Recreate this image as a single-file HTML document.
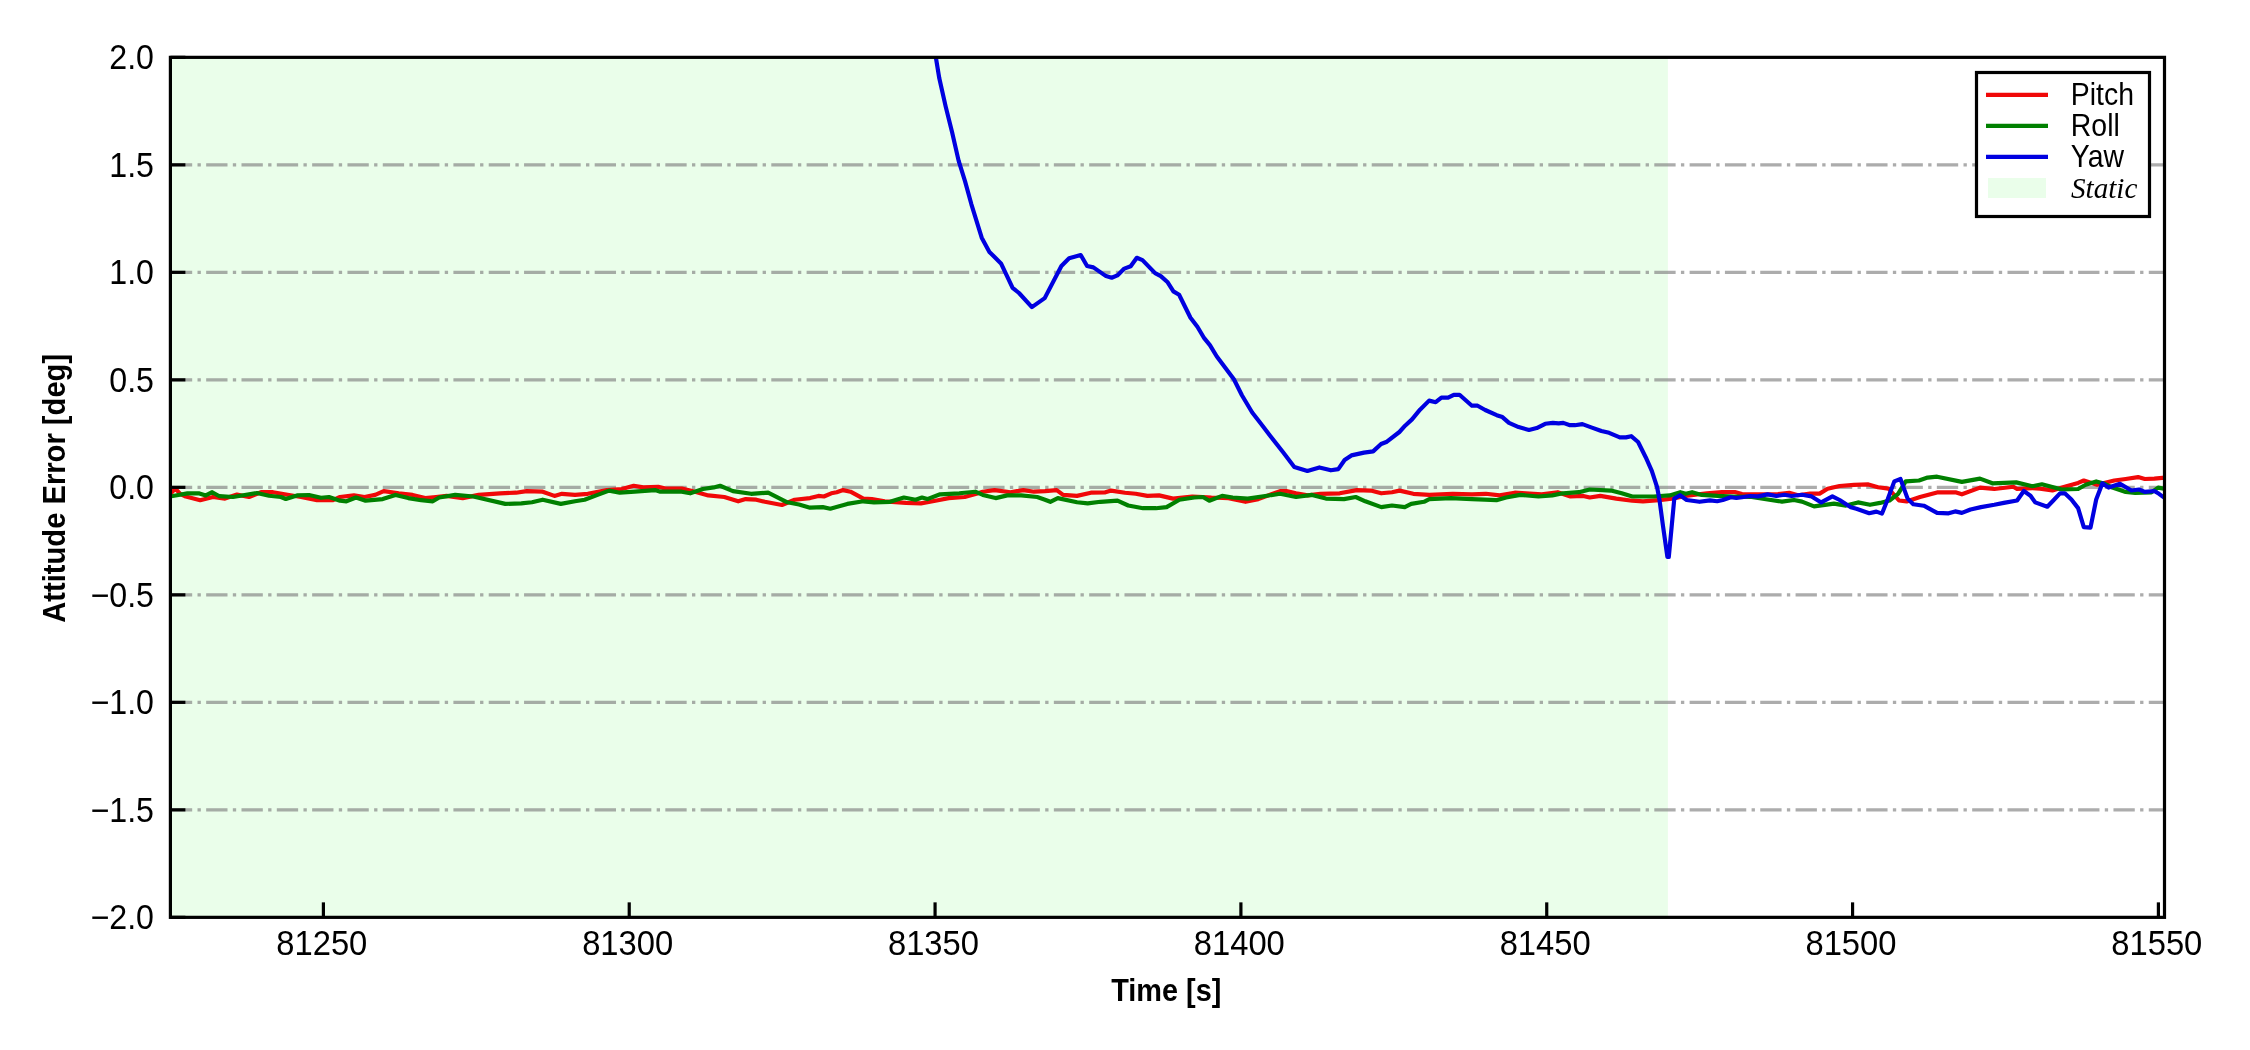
<!DOCTYPE html>
<html><head><meta charset="utf-8"><style>
html,body{margin:0;padding:0;background:#fff;}
body{width:2250px;height:1050px;overflow:hidden;}
svg{display:block;will-change:transform;}
text{font-family:"Liberation Sans",sans-serif;fill:#000;}
</style></head><body>
<svg width="2250" height="1050" viewBox="0 0 2250 1050">
<defs><clipPath id="ax"><rect x="170.4" y="57.35" width="1994.1" height="860.0"/></clipPath></defs>
<rect x="0" y="0" width="2250" height="1050" fill="#fff"/>
<rect x="170.4" y="57.35" width="1497.5" height="860.0" fill="#eafeea"/>
<g clip-path="url(#ax)" stroke="#808080" stroke-opacity="0.65" stroke-width="3.33" stroke-dasharray="21.33 5.33 3.33 5.33" fill="none"><line x1="170.85" y1="809.85" x2="2164.5" y2="809.85"/><line x1="170.85" y1="702.35" x2="2164.5" y2="702.35"/><line x1="170.85" y1="594.85" x2="2164.5" y2="594.85"/><line x1="170.85" y1="487.35" x2="2164.5" y2="487.35"/><line x1="170.85" y1="379.85" x2="2164.5" y2="379.85"/><line x1="170.85" y1="272.35" x2="2164.5" y2="272.35"/><line x1="170.85" y1="164.85" x2="2164.5" y2="164.85"/></g>
<g clip-path="url(#ax)" fill="none" stroke-width="4.17" stroke-linejoin="round" stroke-linecap="square"><polyline stroke="#f00808" points="171.8,492.2 175.4,488.6 180.2,493.8 185.8,496.6 200.2,500.2 213.0,497.0 225.0,498.6 237.0,494.6 249.0,497.0 261.0,492.2 273.0,492.2 289.0,495.0 301.0,497.0 317.0,500.2 333.0,500.2 340.0,497.0 353.9,495.4 364.5,497.0 375.2,494.9 383.7,491.1 398.7,493.3 412.5,494.9 425.3,498.1 436.0,497.0 446.7,495.9 462.7,498.1 478.7,494.9 500.0,493.3 516.0,492.7 526.7,491.1 542.7,491.7 554.4,495.9 561.9,493.8 575.0,494.9 587.8,493.8 607.0,490.1 621.9,489.0 633.7,485.8 643.3,487.4 658.2,486.9 665.7,488.5 681.7,488.5 692.3,491.1 708.3,495.4 724.3,497.0 738.2,501.3 745.7,499.1 756.3,499.7 764.9,501.8 781.9,505.0 794.7,499.7 810.0,498.1 818.5,495.9 823.9,496.5 831.3,493.3 836.7,492.2 843.1,490.1 850.5,491.7 863.3,498.6 871.9,499.1 884.7,501.3 906.0,502.9 920.9,503.4 938.0,500.2 948.7,498.1 964.7,497.0 976.4,493.8 982.8,491.7 994.5,490.1 1010.5,492.2 1023.3,490.1 1034.0,491.7 1045.0,491.1 1056.7,490.1 1063.1,494.9 1077.0,495.9 1090.9,492.7 1104.7,492.5 1111.1,490.6 1125.0,492.7 1135.7,493.8 1147.4,495.9 1159.1,495.4 1173.0,498.6 1192.2,496.5 1202.9,497.0 1211.4,497.5 1228.5,498.1 1245.5,501.8 1258.3,499.1 1280.0,491.1 1286.4,491.1 1296.0,493.3 1307.7,495.4 1320.5,493.8 1339.7,493.3 1356.8,490.1 1370.7,490.6 1381.3,493.3 1392.0,492.2 1399.5,490.6 1413.3,493.8 1429.3,494.9 1452.8,493.8 1472.0,494.3 1485.9,493.8 1499.7,495.4 1514.7,492.7 1525.7,493.3 1541.7,494.3 1557.7,492.2 1570.5,496.5 1583.3,495.9 1589.7,497.5 1600.3,495.9 1616.3,498.6 1632.3,500.7 1643.0,501.3 1659.0,500.2 1671.8,498.6 1685.7,495.9 1707.0,493.3 1722.0,492.0 1734.8,492.0 1742.0,494.0 1758.0,494.4 1778.0,494.0 1789.2,492.8 1798.0,495.2 1810.0,493.6 1819.6,493.6 1827.6,488.8 1839.6,486.0 1854.0,484.8 1868.4,484.4 1878.0,487.2 1888.6,488.6 1899.0,500.5 1906.7,501.4 1920.0,497.1 1937.1,492.4 1956.2,492.4 1961.9,494.3 1980.0,487.6 1994.3,489.0 2013.3,486.7 2017.1,489.0 2032.4,488.1 2040.0,488.6 2052.4,490.5 2063.8,487.1 2078.1,482.9 2083.8,480.5 2097.1,484.8 2114.3,480.5 2125.7,479.0 2138.1,477.1 2144.8,479.0 2154.3,478.6 2166.0,477.6"/><polyline stroke="#008000" points="171.8,496.2 187.4,493.4 199.4,493.4 205.8,495.4 212.2,492.2 219.4,496.2 233.0,497.0 257.0,493.0 269.0,495.8 281.0,497.0 285.8,499.0 297.0,495.4 309.0,495.0 321.0,497.8 329.0,497.0 340.0,500.7 346.4,501.3 356.0,497.5 365.6,500.7 382.7,499.1 395.5,494.9 408.3,498.1 421.1,500.2 432.8,501.3 439.2,497.5 455.2,494.9 473.3,496.5 505.3,503.9 521.3,503.4 532.0,502.3 542.7,499.7 560.8,503.9 575.0,501.3 584.6,499.7 596.3,495.4 609.1,490.6 619.8,492.7 634.7,491.7 655.0,490.1 660.3,491.7 681.7,491.7 690.2,493.3 703.0,489.0 713.7,487.4 720.1,485.8 732.9,491.1 751.0,493.8 768.1,492.7 787.3,502.3 799.0,504.5 810.0,507.7 822.8,507.1 830.3,508.7 847.3,503.9 863.3,501.3 874.0,502.3 890.0,501.8 903.9,497.5 915.6,499.7 922.0,497.5 927.3,499.1 940.1,494.3 959.3,493.3 975.3,491.7 982.8,494.9 995.6,498.1 1007.3,495.4 1021.2,495.4 1037.2,497.0 1045.0,499.7 1050.3,501.8 1057.8,498.1 1077.0,502.3 1087.7,503.4 1100.5,501.8 1117.5,500.7 1128.2,505.5 1143.1,508.2 1155.9,508.2 1166.6,507.1 1179.4,499.7 1194.3,497.5 1202.9,497.0 1209.3,500.7 1222.1,495.9 1232.7,497.5 1247.7,498.6 1280.0,493.8 1296.0,497.0 1312.0,494.9 1325.9,498.6 1344.0,499.1 1355.7,497.0 1365.3,501.3 1381.3,507.1 1392.0,505.5 1404.8,507.1 1411.2,503.9 1424.0,501.8 1429.3,499.1 1450.7,498.1 1472.0,499.1 1484.8,499.7 1496.5,500.2 1506.1,497.5 1520.3,494.9 1538.5,496.5 1552.3,495.4 1563.0,493.3 1579.0,492.2 1589.7,489.5 1611.0,490.6 1621.7,493.3 1632.3,496.5 1653.7,496.5 1669.7,495.4 1680.3,492.2 1685.7,493.8 1692.1,492.2 1701.7,494.9 1717.7,495.9 1733.7,496.5 1750.0,496.8 1766.0,499.2 1782.0,501.6 1794.0,500.0 1802.0,501.6 1814.0,506.4 1834.0,503.6 1846.0,505.6 1858.0,502.4 1870.0,504.8 1880.0,502.9 1889.5,500.5 1898.1,493.8 1905.7,481.4 1919.0,480.5 1927.6,477.6 1937.1,476.7 1961.9,481.9 1980.0,478.6 1992.4,483.3 2016.2,482.4 2032.4,486.2 2041.9,484.3 2047.6,485.7 2061.9,489.5 2078.1,489.0 2085.7,484.8 2096.2,481.4 2104.8,483.8 2112.4,487.6 2125.7,491.9 2135.2,492.9 2151.4,492.4 2158.1,487.6 2166.0,489.0"/><polyline stroke="#0000e0" points="935.9,57.7 939.3,78.3 945.7,106.6 952.1,132.3 958.6,160.6 965.0,181.1 971.4,204.3 981.7,237.7 989.4,251.9 1001.0,263.4 1012.6,287.8 1019.0,293.0 1031.9,307.1 1044.7,298.1 1061.4,266.0 1069.1,258.3 1080.7,255.0 1087.1,266.0 1093.4,267.4 1106.0,276.1 1111.7,277.7 1117.4,275.4 1124.3,268.6 1130.7,266.3 1136.8,257.8 1142.5,260.1 1155.1,273.1 1160.8,276.1 1167.7,282.3 1173.4,291.4 1179.1,294.8 1190.5,317.7 1197.4,326.8 1204.2,338.2 1209.9,345.1 1216.8,356.5 1233.9,379.3 1241.9,395.3 1252.2,412.5 1260.2,422.7 1270.3,436.0 1282.9,452.0 1294.3,466.9 1307.4,470.9 1319.4,467.4 1330.9,470.3 1338.3,469.1 1344.6,460.0 1351.4,455.4 1364.0,452.6 1373.1,451.4 1381.1,444.0 1386.9,441.7 1399.4,432.0 1405.1,425.7 1412.0,419.4 1420.0,409.7 1429.1,400.6 1435.7,402.2 1441.4,397.6 1448.1,397.6 1453.8,394.8 1459.5,394.8 1471.9,405.7 1477.6,405.7 1485.2,410.0 1496.7,415.2 1502.4,417.1 1509.0,422.9 1518.6,427.1 1529.0,430.0 1536.7,428.1 1545.2,423.8 1552.9,422.9 1558.6,423.3 1563.3,422.9 1570.0,425.2 1574.8,425.2 1582.4,424.1 1591.9,427.6 1601.4,431.0 1609.1,432.8 1619.8,437.4 1625.9,437.4 1631.2,436.2 1638.1,442.0 1645.7,457.2 1651.8,470.9 1657.1,487.1 1659.5,500.0 1663.0,526.0 1667.4,557.0 1668.8,557.0 1671.6,527.3 1674.3,498.6 1680.0,495.2 1686.7,500.0 1699.5,501.8 1710.0,500.4 1717.2,501.2 1722.8,500.0 1730.8,497.2 1736.4,498.0 1742.0,497.2 1750.0,496.0 1758.0,496.4 1767.6,494.4 1776.4,496.0 1784.4,494.8 1791.6,496.0 1802.0,494.8 1811.6,496.4 1821.2,502.4 1832.4,496.4 1839.6,500.0 1850.8,507.2 1856.4,508.8 1869.2,513.2 1876.4,511.6 1882.0,513.6 1887.6,499.5 1894.3,481.4 1900.5,479.0 1903.8,488.1 1907.6,498.6 1913.3,504.3 1923.8,505.7 1937.1,512.9 1948.6,513.3 1955.2,511.4 1961.9,512.9 1970.5,509.5 1981.0,507.1 1994.3,504.8 2003.8,502.9 2017.1,500.5 2023.8,491.0 2030.5,495.7 2035.2,502.4 2047.3,506.7 2053.3,500.5 2060.0,493.3 2064.8,493.3 2071.4,499.5 2078.1,508.1 2083.8,527.1 2090.5,527.6 2096.2,499.5 2102.4,483.3 2108.6,487.6 2120.0,483.8 2131.4,490.5 2139.0,489.5 2144.8,491.9 2154.3,491.0 2159.0,493.8 2166.0,499.0"/></g>
<rect x="170.4" y="57.35" width="1994.1" height="860.0" fill="none" stroke="#000" stroke-width="3.2"/>
<g stroke="#000" stroke-width="3.2"><line x1="323.40" y1="917.35" x2="323.40" y2="902.35"/><line x1="629.23" y1="917.35" x2="629.23" y2="902.35"/><line x1="935.07" y1="917.35" x2="935.07" y2="902.35"/><line x1="1240.90" y1="917.35" x2="1240.90" y2="902.35"/><line x1="1546.73" y1="917.35" x2="1546.73" y2="902.35"/><line x1="1852.57" y1="917.35" x2="1852.57" y2="902.35"/><line x1="2158.40" y1="917.35" x2="2158.40" y2="902.35"/><line x1="170.4" y1="917.35" x2="185.4" y2="917.35"/><line x1="170.4" y1="809.85" x2="185.4" y2="809.85"/><line x1="170.4" y1="702.35" x2="185.4" y2="702.35"/><line x1="170.4" y1="594.85" x2="185.4" y2="594.85"/><line x1="170.4" y1="487.35" x2="185.4" y2="487.35"/><line x1="170.4" y1="379.85" x2="185.4" y2="379.85"/><line x1="170.4" y1="272.35" x2="185.4" y2="272.35"/><line x1="170.4" y1="164.85" x2="185.4" y2="164.85"/><line x1="170.4" y1="57.35" x2="185.4" y2="57.35"/></g>
<text transform="translate(321.80,955.2) scale(0.982,1.035)" text-anchor="middle" font-size="33.33">81250</text><text transform="translate(627.63,955.2) scale(0.982,1.035)" text-anchor="middle" font-size="33.33">81300</text><text transform="translate(933.47,955.2) scale(0.982,1.035)" text-anchor="middle" font-size="33.33">81350</text><text transform="translate(1239.30,955.2) scale(0.982,1.035)" text-anchor="middle" font-size="33.33">81400</text><text transform="translate(1545.13,955.2) scale(0.982,1.035)" text-anchor="middle" font-size="33.33">81450</text><text transform="translate(1850.97,955.2) scale(0.982,1.035)" text-anchor="middle" font-size="33.33">81500</text><text transform="translate(2156.80,955.2) scale(0.982,1.035)" text-anchor="middle" font-size="33.33">81550</text><text transform="translate(154.0,929.05) scale(0.965,1.035)" text-anchor="end" font-size="33.33">−2.0</text><text transform="translate(154.0,821.55) scale(0.965,1.035)" text-anchor="end" font-size="33.33">−1.5</text><text transform="translate(154.0,714.05) scale(0.965,1.035)" text-anchor="end" font-size="33.33">−1.0</text><text transform="translate(154.0,606.55) scale(0.965,1.035)" text-anchor="end" font-size="33.33">−0.5</text><text transform="translate(154.0,499.05) scale(0.965,1.035)" text-anchor="end" font-size="33.33">0.0</text><text transform="translate(154.0,391.55) scale(0.965,1.035)" text-anchor="end" font-size="33.33">0.5</text><text transform="translate(154.0,284.05) scale(0.965,1.035)" text-anchor="end" font-size="33.33">1.0</text><text transform="translate(154.0,176.55) scale(0.965,1.035)" text-anchor="end" font-size="33.33">1.5</text><text transform="translate(154.0,69.05) scale(0.965,1.035)" text-anchor="end" font-size="33.33">2.0</text>
<text transform="translate(1166.3,1001) scale(0.99,1.08)" text-anchor="middle" font-size="29.17" font-weight="bold">Time [s]</text>
<text transform="translate(64.6,488.3) rotate(-90) scale(1.0,1.07)" x="0" y="0" text-anchor="middle" font-size="29.17" font-weight="bold">Attitude Error [deg]</text>
<rect x="1976.5" y="72.5" width="173" height="144" fill="#fff" stroke="#000" stroke-width="3.2"/>
<g stroke-width="4.17"><line x1="1986" y1="94.9" x2="2048" y2="94.9" stroke="#f00808"/><line x1="1986" y1="125.8" x2="2048" y2="125.8" stroke="#008000"/><line x1="1986" y1="156.8" x2="2048" y2="156.8" stroke="#0000e0"/></g>
<rect x="1988" y="178" width="58" height="20" fill="#eafeea"/>
<text transform="translate(2070.8,104.9) scale(0.975,1.05)" font-size="29.17">Pitch</text><text transform="translate(2070.8,135.9) scale(0.975,1.05)" font-size="29.17">Roll</text><text transform="translate(2070.8,166.9) scale(0.975,1.05)" font-size="29.17">Yaw</text><text x="2071" y="197.6" font-size="29.17" font-style="italic" style="font-family:'Liberation Serif',serif">Static</text>
</svg></body></html>
